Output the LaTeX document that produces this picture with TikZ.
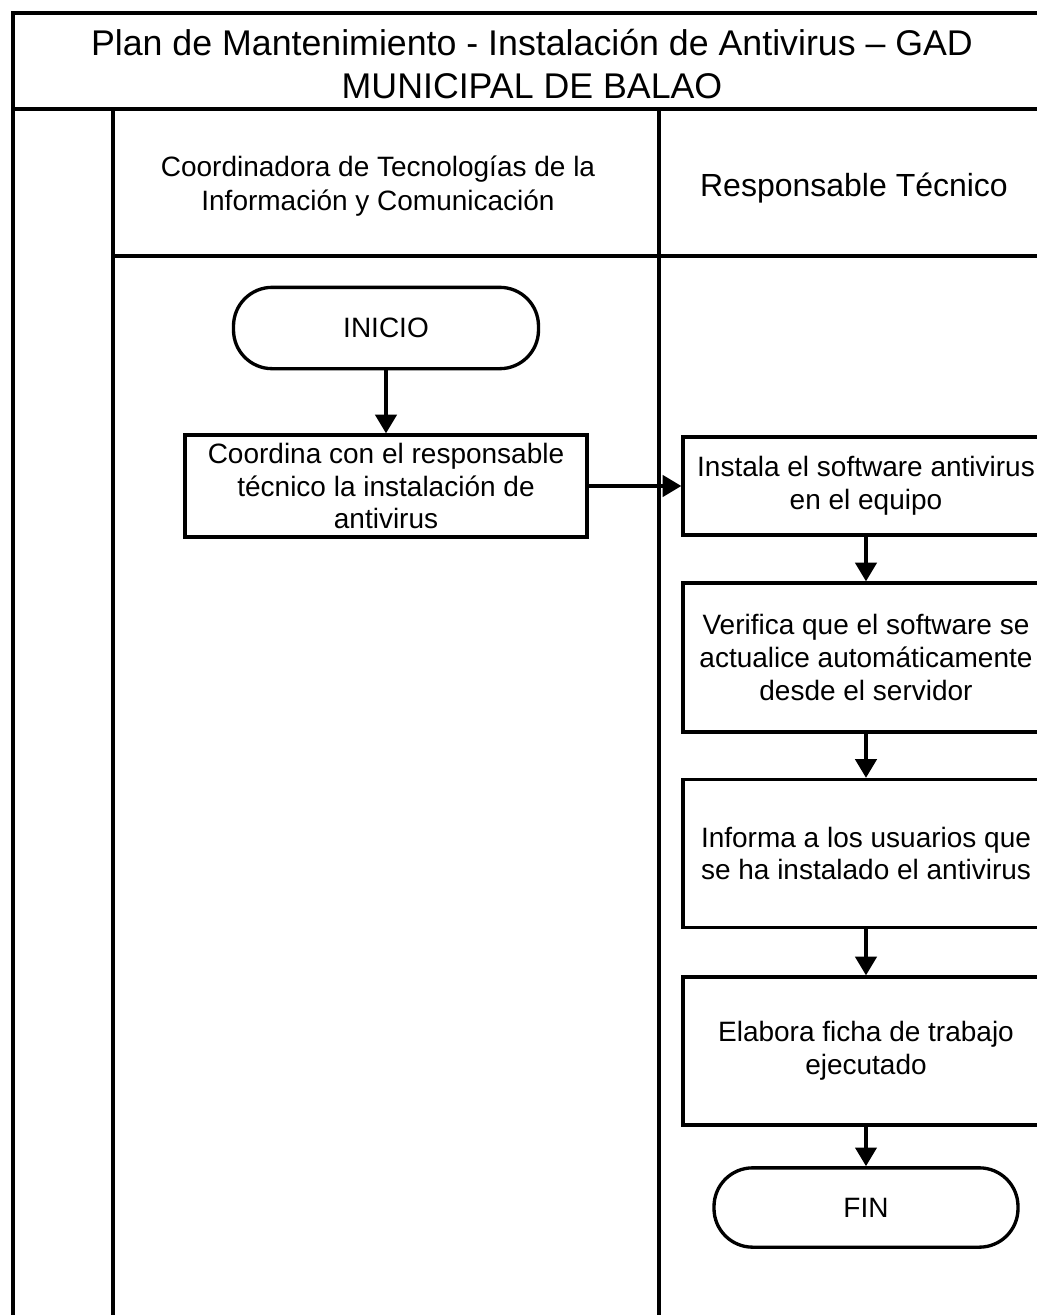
\documentclass[tikz,border=0pt]{standalone}
\usepackage{fontspec}
\setmainfont{Liberation Sans}
\usetikzlibrary{arrows.meta}
\begin{document}
\begin{tikzpicture}[x=0.75pt,y=-0.75pt,
  frame/.style={line width=2.5pt},
  body/.style={font=\fontsize{21}{24.5}\selectfont,align=center,inner sep=0pt},
  proc/.style={body,draw,line width=2.5pt,minimum width=274.5pt},
  term/.style={body,draw,line width=2.5pt,rounded corners=29pt,minimum width=228.75pt,minimum height=61pt},
  arr/.style={line width=2.5pt,-{Triangle[length=14pt,width=16pt]}}]
\useasboundingbox (0,0) rectangle (1037,1315);
\clip (0,0) rectangle (1037,1315);
\fill[white] (0,0) rectangle (1037,1315);
% frame and lanes
\draw[frame] (13,13) rectangle (1048,1340);
\draw[frame] (13,109) -- (1048,109);
\draw[frame] (113,109) -- (113,1340);
\draw[frame] (113,256) -- (1048,256);
\draw[frame] (659,109) -- (659,1340);
% titles
\node[align=center,font=\fontsize{26.8}{32}\selectfont,inner sep=0pt] (title) at (532,64)
  {Plan de Mantenimiento - Instalación de Antivirus – GAD\\MUNICIPAL DE BALAO};
\node[align=center,font=\fontsize{21}{26}\selectfont,inner sep=0pt] (lane1) at (378,186)
  {Coordinadora de Tecnologías de la\\Información y Comunicación};
\node[font=\fontsize{24}{28}\selectfont,inner sep=0pt] (lane2) at (854,188) {Responsable Técnico};
% flow
\node[term] (inicio) at (386,328) {INICIO};
\node[proc,minimum width=301.5pt,minimum height=76.5pt] (coord) at (386,486)
  {Coordina con el responsable\\técnico la instalación de\\antivirus};
\node[proc,minimum height=73.5pt] (instala) at (866,486)
  {Instala el software antivirus\\en el equipo};
\node[proc,minimum height=111.75pt] (verifica) at (866,657.5)
  {Verifica que el software se\\actualice automáticamente\\desde el servidor};
\node[proc,minimum height=111pt] (informa) at (866,853.5)
  {Informa a los usuarios que\\se ha instalado el antivirus};
\node[proc,minimum height=111pt] (elabora) at (866,1051)
  {Elabora ficha de trabajo\\ejecutado};
\node[term,minimum width=228pt,minimum height=59.5pt] (fin) at (866,1207.5) {FIN};
\draw[arr] (inicio) -- (coord);
\draw[arr] (coord) -- (instala);
\draw[arr] (instala) -- (verifica);
\draw[arr] (verifica) -- (informa);
\draw[arr] (informa) -- (elabora);
\draw[arr] (elabora) -- (fin);
\end{tikzpicture}
\end{document}
